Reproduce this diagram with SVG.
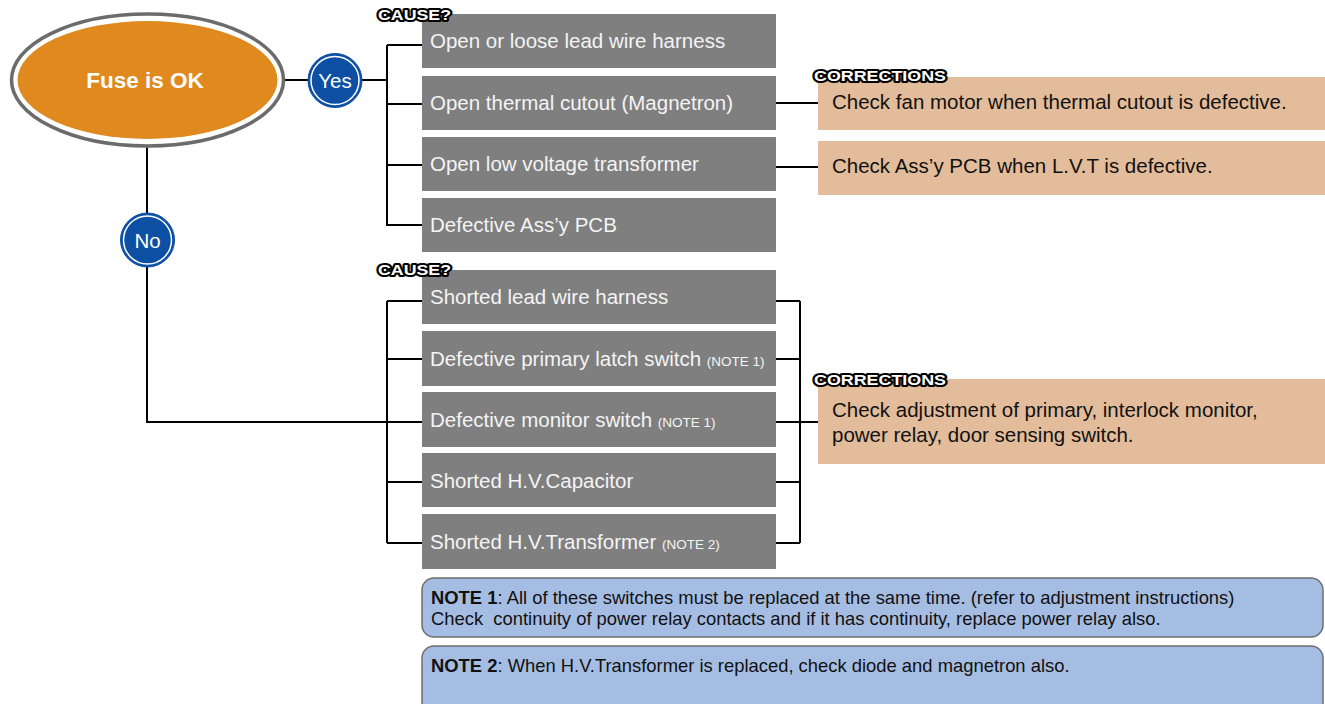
<svg xmlns="http://www.w3.org/2000/svg" width="1325" height="704" viewBox="0 0 1325 704">
<style>
  text { font-family: "Liberation Sans", Arial, sans-serif; }
  .cause { fill: #7f7f80; }
  .ct { fill: #f4f4f4; font-size: 20.5px; }
  .small { font-size: 13.5px; }
  .corr { fill: #e3bc9b; }
  .rt { fill: #111; font-size: 20.5px; }
  .tag { font-weight: bold; font-size: 15px; fill: #fff; stroke: #000; stroke-width: 4px; stroke-linejoin: round; paint-order: stroke; }
  .note { fill: #a5bde2; stroke: #6e6e6e; stroke-width: 1.5px; }
  .nt { fill: #111; font-size: 18.4px; }
  .conn { stroke: #000; stroke-width: 2px; fill: none; }
  .yn { fill: #0d4fa3; stroke: #0d4fa3; stroke-width: 1px; }
  .ynring { fill: none; stroke: #fff; stroke-width: 1.5px; }
  .ynt { fill: #fff; font-size: 20.5px; text-anchor: middle; }
</style>

<g id="connectors">
  <path class="conn" d="M285 80 H308"/>
  <path class="conn" d="M361 80 H387"/>
  <path class="conn" d="M387 45 V226"/>
  <path class="conn" d="M387 45 H422 M387 104 H422 M387 165 H422 M387 225 H422"/>
  <path class="conn" d="M776 103 H818"/>
  <path class="conn" d="M776 167 H818"/>
  <path class="conn" d="M147 146 V213"/>
  <path class="conn" d="M147 267 V422 H422"/>
  <path class="conn" d="M387 301 V543"/>
  <path class="conn" d="M387 301 H422 M387 359 H422 M387 482 H422 M387 543 H422"/>
  <path class="conn" d="M800 301 V543"/>
  <path class="conn" d="M776 301 H800 M776 359 H800 M776 422 H818 M776 482 H800 M776 543 H800"/>
</g>

<g id="fuse-ok">
  <ellipse cx="147.5" cy="80" rx="136" ry="66" fill="#fff" stroke="#6b6b6b" stroke-width="3.5"/>
  <ellipse cx="147.5" cy="80" rx="130" ry="59" fill="#e0891e"/>
  <text x="145" y="88" font-size="22.5" font-weight="bold" fill="#fff" text-anchor="middle">Fuse is OK</text>
</g>

<g id="yes">
  <circle class="yn" cx="335" cy="80.5" r="27"/>
  <circle class="ynring" cx="335" cy="80.5" r="24"/>
  <text class="ynt" x="335" y="88">Yes</text>
</g>

<g id="no">
  <circle class="yn" cx="147.5" cy="240" r="27"/>
  <circle class="ynring" cx="147.5" cy="240" r="24"/>
  <text class="ynt" x="147.5" y="247.5">No</text>
</g>

<g id="yes-cause-1">
  <rect class="cause" x="422" y="14" width="354" height="54"/>
  <text class="ct" x="430" y="48">Open or loose lead wire harness</text>
</g>
<g id="yes-cause-2">
  <rect class="cause" x="422" y="76" width="354" height="54"/>
  <text class="ct" x="430" y="110">Open thermal cutout (Magnetron)</text>
</g>
<g id="yes-cause-3">
  <rect class="cause" x="422" y="137" width="354" height="54"/>
  <text class="ct" x="430" y="171">Open low voltage transformer</text>
</g>
<g id="yes-cause-4">
  <rect class="cause" x="422" y="198" width="354" height="54"/>
  <text class="ct" x="430" y="232">Defective Ass’y PCB</text>
</g>

<g id="correction-1">
  <rect class="corr" x="818" y="77" width="507" height="53"/>
  <text class="rt" x="832" y="109">Check fan motor when thermal cutout is defective.</text>
</g>
<g id="correction-2">
  <rect class="corr" x="818" y="141" width="507" height="54"/>
  <text class="rt" x="832" y="173">Check Ass’y PCB when L.V.T is defective.</text>
</g>

<g id="no-cause-1">
  <rect class="cause" x="422" y="270" width="354" height="54"/>
  <text class="ct" x="430" y="304">Shorted lead wire harness</text>
</g>
<g id="no-cause-2">
  <rect class="cause" x="422" y="331" width="354" height="55"/>
  <text class="ct" x="430" y="366">Defective primary latch switch <tspan class="small">(NOTE 1)</tspan></text>
</g>
<g id="no-cause-3">
  <rect class="cause" x="422" y="392" width="354" height="55"/>
  <text class="ct" x="430" y="427">Defective monitor switch <tspan class="small">(NOTE 1)</tspan></text>
</g>
<g id="no-cause-4">
  <rect class="cause" x="422" y="453" width="354" height="54"/>
  <text class="ct" x="430" y="488">Shorted H.V.Capacitor</text>
</g>
<g id="no-cause-5">
  <rect class="cause" x="422" y="514" width="354" height="55"/>
  <text class="ct" x="430" y="549">Shorted H.V.Transformer <tspan class="small">(NOTE 2)</tspan></text>
</g>

<g id="correction-3">
  <rect class="corr" x="818" y="379" width="507" height="85"/>
  <text class="rt" x="832" y="417">Check adjustment of primary, interlock monitor,</text>
  <text class="rt" x="832" y="442">power relay, door sensing switch.</text>
</g>

<g id="note-1">
  <rect class="note" x="422" y="578" width="901" height="59" rx="12" ry="12"/>
  <text class="nt" x="431" y="604"><tspan font-weight="bold">NOTE 1</tspan>: All of these switches must be replaced at the same time. (refer to adjustment instructions)</text>
  <text class="nt" x="431" y="625" xml:space="preserve">Check  continuity of power relay contacts and if it has continuity, replace power relay also.</text>
</g>
<g id="note-2">
  <rect class="note" x="422" y="646" width="901" height="70" rx="12" ry="12"/>
  <text class="nt" x="431" y="672"><tspan font-weight="bold">NOTE 2</tspan>: When H.V.Transformer is replaced, check diode and magnetron also.</text>
</g>

<g id="cause-label-1">
  <text class="tag" x="378" y="20" textLength="73" lengthAdjust="spacingAndGlyphs">CAUSE?</text>
</g>
<g id="cause-label-2">
  <text class="tag" x="378" y="275" textLength="73" lengthAdjust="spacingAndGlyphs">CAUSE?</text>
</g>
<g id="corrections-label-1">
  <text class="tag" x="814" y="81" textLength="132" lengthAdjust="spacingAndGlyphs">CORRECTIONS</text>
</g>
<g id="corrections-label-2">
  <text class="tag" x="814" y="385" textLength="132" lengthAdjust="spacingAndGlyphs">CORRECTIONS</text>
</g>
</svg>
